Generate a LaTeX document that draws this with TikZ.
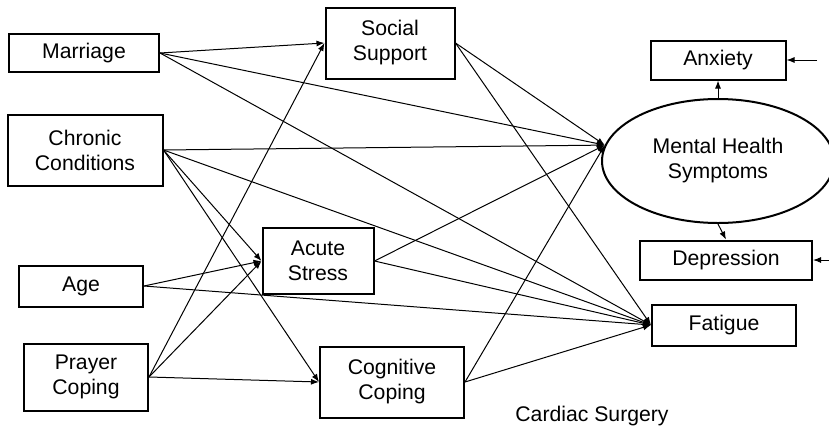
\documentclass[tikz,border=0pt]{standalone}
\usepackage{fontspec}
\setmainfont{Liberation Sans}
\usetikzlibrary{arrows.meta,shapes.geometric}

\begin{document}
\begin{tikzpicture}[x=0.5pt, y=-0.5pt,
    every node/.style={font=\fontsize{10.6}{12.5}\selectfont},
    box/.style n args={2}{draw, line width=1pt, align=center, inner sep=0pt, minimum width=#1pt, minimum height=#2pt},
    path/.style={line width=0.5pt, -{Latex[length=4pt,width=3pt]}}]
    \useasboundingbox (0,0) rectangle (829,428);
    \node [box={75}{19}]     (marriage)   at (84,53)   {Marriage};
    \node [box={77.5}{35.5}] (chronic)    at (85,150)  {Chronic\\Conditions};
    \node [box={62}{20.5}]   (age)        at (81,286)  {Age};
    \node [box={62}{33.5}]   (prayer)     at (86,377)  {Prayer\\Coping};
    \node [box={64.5}{35.5}] (social)     at (390,43)  {Social\\Support};
    \node [box={55.5}{33}]   (acute)      at (318,261) {Acute\\Stress};
    \node [box={72}{35.5}]   (cognitive)  at (392,382) {Cognitive\\Coping};
    \node [draw, ellipse, line width=1pt, align=center, inner sep=0pt,
           minimum width=116pt, minimum height=62pt] (mhs) at (718,161) {Mental Health\\Symptoms};
    \node [box={67.5}{19.5}] (anxiety)    at (718,60)  {Anxiety};
    \node [box={86}{19.5}]   (depression) at (726,260) {Depression};
    \node [box={72}{20.5}]   (fatigue)    at (724,325) {Fatigue};
    \node (setting) at (592,416) {Cardiac Surgery};
    \coordinate (anxerr) at (817,60);
    \coordinate (deperr) at (832,260);

    \foreach \src/\dst in {marriage/social.west, marriage/mhs.172, marriage/fatigue.west,
                           chronic/mhs.172, chronic/fatigue.west, chronic/acute.west, chronic/cognitive.west,
                           age/acute.west, age/fatigue.west,
                           prayer/social.west, prayer/acute.west, prayer/cognitive.west,
                           social/mhs.172, social/fatigue.west,
                           acute/mhs.172, acute/fatigue.west,
                           cognitive/mhs.172, cognitive/fatigue.west}
        \draw [path] (\src.east) -- (\dst);
    \draw [path] (mhs.north) -- (anxiety.south);
    \draw [path] (mhs.south) -- (depression.north);
    \draw [path] (anxerr) -- (anxiety.east);
    \draw [path] (deperr) -- (depression.east);
\end{tikzpicture}
\end{document}
